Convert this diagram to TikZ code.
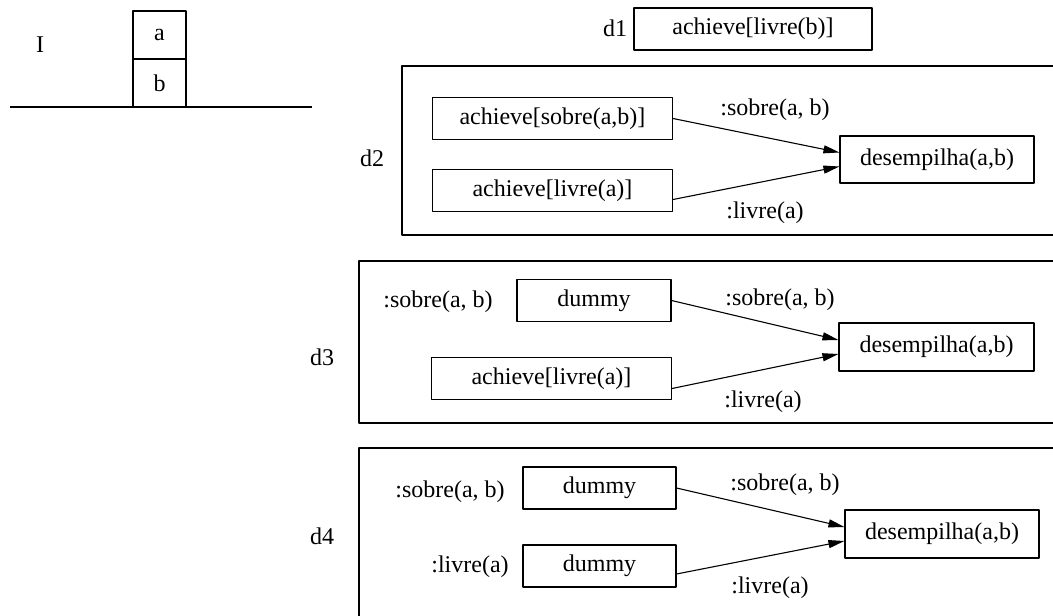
\documentclass[tikz,border=0pt]{standalone}
\usepackage{fontspec}
\setmainfont{Liberation Serif}
\usetikzlibrary{arrows.meta}
\begin{document}
\begin{tikzpicture}[x=1pt,y=-1pt,line join=round,>={Triangle[length=16pt,width=8pt]},line width=1.1pt]
	\tikzset{every node/.style={font=\fontsize{24}{28}\selectfont,inner sep=0pt}}
	\tikzset{caixa/.style={draw,minimum height=42pt}}
	\useasboundingbox (0,0) rectangle (1053,616);
	% estado inicial
	\node (I) at (40,45) {I};
	\node[draw,minimum width=53pt,minimum height=48pt] (a) at (159.5,35) {a};
	\node[draw,minimum width=53pt,minimum height=48pt] (b) at (159.5,83) {b};
	\coordinate (mesa1) at (10,107);
	\coordinate (mesa2) at (312,107);
	\draw (mesa1) -- (mesa2);
	% d1
	\node (d1) at (615,28) {d1};
	\node[caixa,minimum width=238pt] (liv) at (753,29) {achieve[livre(b)]};
	% d2
	\draw (1053,66) -| (402,235) -- (1053,235);
	\node (d2) at (372,158) {d2};
	\node[caixa,minimum width=240pt] (so2) at (552.5,118.5) {achieve[sobre(a,b)]};
	\node[caixa,minimum width=240pt] (la2) at (552.5,190.5) {achieve[livre(a)]};
	\node[caixa,minimum width=194pt,minimum height=47pt] (dz2) at (937,159.5) {desempilha(a,b)};
	\draw[->] (so2.east) -- ([yshift=7pt]dz2.west);
	\draw[->] ([yshift=-9pt]la2.east) -- ([yshift=-7pt]dz2.west);
	\node at (775,110) {:sobre(a, b)};
	\node at (765,213) {:livre(a)};
	% d3
	\draw (1053,261) -| (359,423) -- (1053,423);
	\node (d3) at (322,357) {d3};
	\node (ls3) at (438,302) {:sobre(a, b)};
	\node[caixa,minimum width=154pt] (du3) at (594,300.5) {dummy};
	\node[caixa,minimum width=240pt] (la3) at (551.5,378.5) {achieve[livre(a)]};
	\node[caixa,minimum width=195pt,minimum height=48pt] (dz3) at (936.5,347) {desempilha(a,b)};
	\draw[->] (du3.east) -- ([yshift=7pt]dz3.west);
	\draw[->] ([yshift=-10pt]la3.east) -- ([yshift=-7pt]dz3.west);
	\node at (780,300) {:sobre(a, b)};
	\node at (763,402) {:livre(a)};
	% d4
	\draw (1053,448) -| (359,620);
	\node (d4) at (322,536) {d4};
	\node (ls4) at (450,492) {:sobre(a, b)};
	\node (ll4) at (470,567) {:livre(a)};
	\node[caixa,minimum width=153pt] (du4) at (599.5,488) {dummy};
	\node[caixa,minimum width=153pt] (dv4) at (599.5,566) {dummy};
	\node[caixa,minimum width=194pt,minimum height=48pt] (dz4) at (942,534) {desempilha(a,b)};
	\draw[->] (du4.east) -- ([yshift=7pt]dz4.west);
	\draw[->] ([yshift=-8pt]dv4.east) -- ([yshift=-7pt]dz4.west);
	\node at (785,485) {:sobre(a, b)};
	\node at (770,588) {:livre(a)};
\end{tikzpicture}
\end{document}
